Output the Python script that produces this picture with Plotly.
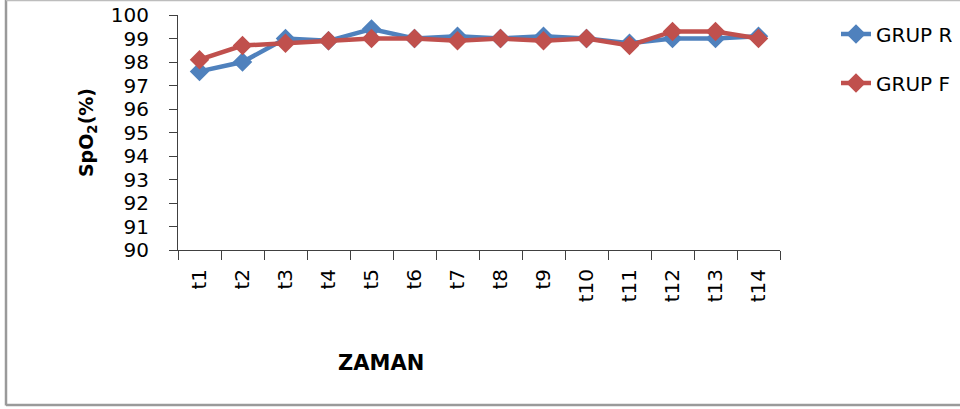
import plotly.graph_objects as go

# Measurement times and SpO2 readings for the two groups
times = ["t1", "t2", "t3", "t4", "t5", "t6", "t7", "t8", "t9", "t10", "t11", "t12", "t13", "t14"]
grup_r = [97.6, 98.0, 99.0, 98.9, 99.4, 99.0, 99.1, 99.0, 99.1, 99.0, 98.8, 99.0, 99.0, 99.1]
grup_f = [98.1, 98.7, 98.8, 98.9, 99.0, 99.0, 98.9, 99.0, 98.9, 99.0, 98.7, 99.3, 99.3, 99.0]
y_ticks = list(range(90, 101))

FONT = "DejaVu Sans"
BLUE = "#4F81BD"
RED = "#C0504D"
AXIS = "#404040"

W, H = 960, 409
L, R, T, B = 178, 180, 15, 159
PW, PH = W - L - R, H - T - B


def px_x(px):
    return (px - L) / PW


def px_y(py):
    return (H - B - py) / PH


fig = go.Figure()
fig.add_trace(go.Scatter(
    x=times, y=grup_r, name="GRUP R", mode="lines+markers",
    line=dict(color=BLUE, width=4.5),
    marker=dict(symbol="diamond", size=15, color=BLUE),
    legend="legend",
))
fig.add_trace(go.Scatter(
    x=times, y=grup_f, name="GRUP F", mode="lines+markers",
    line=dict(color=RED, width=4.5),
    marker=dict(symbol="diamond", size=15, color=RED),
    legend="legend2",
))

legend_style = dict(
    font=dict(family=FONT, size=20, color="#000000"),
    bgcolor="rgba(0,0,0,0)",
    xanchor="left", yanchor="middle",
    itemwidth=30,
)

fig.update_layout(
    width=W, height=H,
    margin=dict(l=L, r=R, t=T, b=B, autoexpand=False),
    paper_bgcolor="white",
    plot_bgcolor="white",
    font=dict(family=FONT, size=20, color="#000000"),
    showlegend=True,
    legend=dict(x=px_x(836), y=px_y(34), **legend_style),
    legend2=dict(x=px_x(836), y=px_y(83), **legend_style),
    xaxis=dict(
        type="category",
        range=[-0.5, len(times) - 0.5],
        tickson="boundaries",
        ticks="outside", ticklen=9, tickcolor=AXIS, tickwidth=1,
        showline=True, linecolor=AXIS, linewidth=1,
        showgrid=False, zeroline=False,
        tickangle=-90,
        ticklabelstandoff=10,
        tickfont=dict(family=FONT, size=20),
    ),
    yaxis=dict(
        range=[90, 100],
        tickvals=y_ticks,
        ticks="outside", ticklen=8, tickcolor=AXIS, tickwidth=1,
        showline=True, linecolor=AXIS, linewidth=1,
        showgrid=False, zeroline=False,
        ticklabelstandoff=16,
        tickfont=dict(family=FONT, size=20),
        title=dict(
            text="<b>SpO<sub>2</sub>(%)</b>",
            font=dict(family=FONT, size=19),
            standoff=12,
        ),
    ),
    annotations=[
        dict(
            text="<b>ZAMAN</b>", xref="paper", yref="paper",
            x=px_x(381), y=px_y(363), xanchor="center", yanchor="middle",
            showarrow=False, font=dict(family=FONT, size=21),
        )
    ],
    shapes=[
        # chart frame
        dict(type="line", xref="paper", yref="paper",
             x0=px_x(6), x1=px_x(6), y0=px_y(0), y1=px_y(405.5),
             line=dict(color="#9A9A9A", width=2.5)),
        dict(type="line", xref="paper", yref="paper",
             x0=px_x(6), x1=px_x(965), y0=px_y(0.5), y1=px_y(0.5),
             line=dict(color="#BDBDBD", width=1.5)),
        dict(type="line", xref="paper", yref="paper",
             x0=px_x(6), x1=px_x(965), y0=px_y(405), y1=px_y(405),
             line=dict(color="#9A9A9A", width=2.5)),
    ],
)

fig.write_html("out.html")
